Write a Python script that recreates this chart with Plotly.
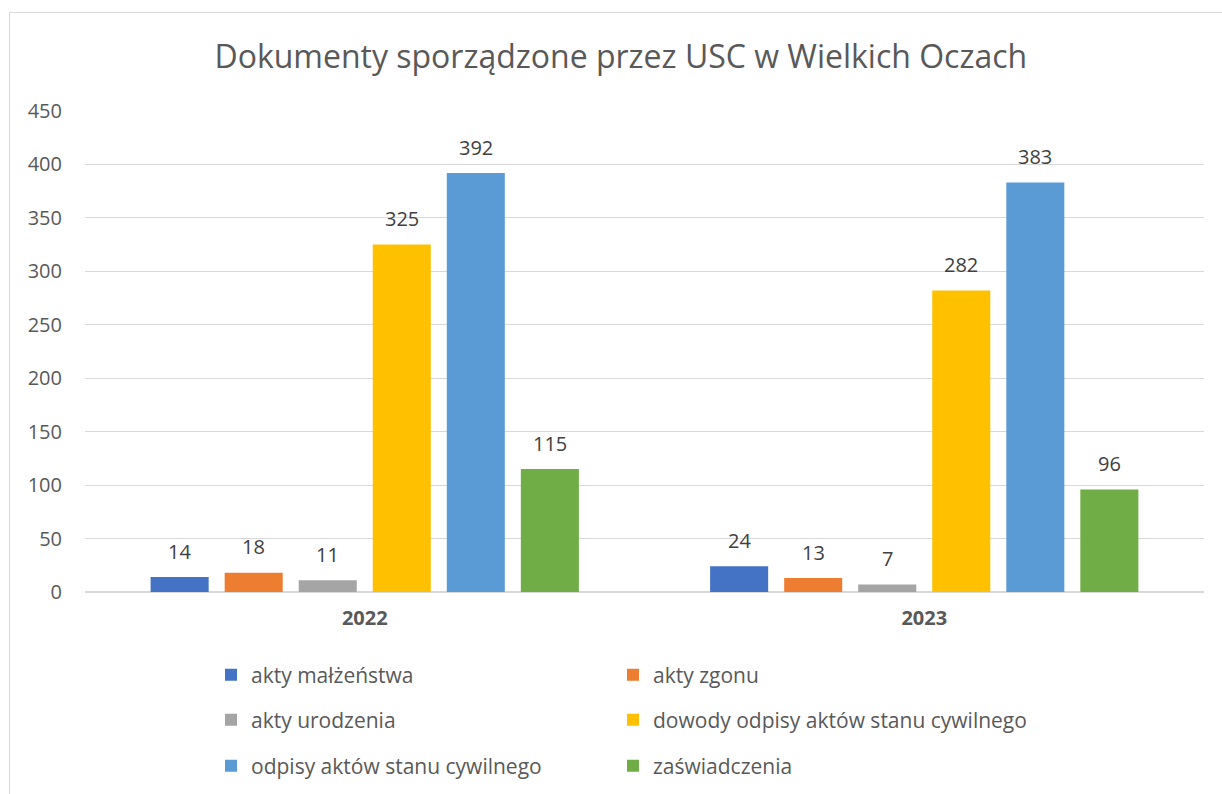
import plotly.graph_objects as go

years = ["2022", "2023"]
series_names = [
    "akty małżeństwa",
    "akty zgonu",
    "akty urodzenia",
    "dowody odpisy aktów stanu cywilnego",
    "odpisy aktów stanu cywilnego",
    "zaświadczenia",
]
akty_malzenstwa = [14, 24]
akty_zgonu = [18, 13]
akty_urodzenia = [11, 7]
dowody_odpisy = [325, 282]
odpisy_aktow = [392, 383]
zaswiadczenia = [115, 96]
series_values = [akty_malzenstwa, akty_zgonu, akty_urodzenia,
                 dowody_odpisy, odpisy_aktow, zaswiadczenia]
colors = ["#4472C4", "#ED7D31", "#A5A5A5", "#FFC000", "#5B9BD5", "#70AD47"]
y_ticks = list(range(0, 451, 50))

W, H = 1222, 794
L, R, T, B = 85, 18, 111, 202
pw = W - L - R
ph = H - T - B

def px_to_paper_x(px):
    return (px - L) / pw

def px_to_paper_y(py):
    return (H - B - py) / ph

font = "Open Sans"
legend_names = ["legend", "legend2", "legend3", "legend4", "legend5", "legend6"]

fig = go.Figure()
for i, (name, vals, col) in enumerate(zip(series_names, series_values, colors)):
    fig.add_trace(go.Bar(
        x=years, y=vals, name=name, marker=dict(color=col, line=dict(width=0)),
        legend=legend_names[i],
    ))

slot = 74
annotations = []
for i, vals in enumerate(series_values):
    for ci, v in enumerate(vals):
        annotations.append(dict(
            x=ci, y=v, xref="x", yref="y", text=str(v), showarrow=False,
            xshift=(i - 2.5) * slot, yshift=26, yanchor="middle",
            font=dict(family=font, size=20, color="#404040"),
        ))

legend_rows_px = [675, 720, 766]
legend_cols_px = [211, 613]
legend_common = dict(
    orientation="h", xanchor="left", yanchor="middle",
    font=dict(family=font, size=21, color="#595959"),
    bgcolor="rgba(0,0,0,0)",
)

layout_legends = {}
for i, ln in enumerate(legend_names):
    layout_legends[ln] = dict(legend_common,
                              x=px_to_paper_x(legend_cols_px[i % 2]),
                              y=px_to_paper_y(legend_rows_px[i // 2]))

fig.update_layout(
    width=W, height=H,
    margin=dict(l=L, r=R, t=T, b=B, autoexpand=False),
    paper_bgcolor="white", plot_bgcolor="white",
    barmode="group", bargap=0.206, bargroupgap=0.216,
    title=dict(text="Dokumenty sporządzone przez USC w Wielkich Oczach",
               x=0.508, xanchor="center", y=1 - 57 / H, yanchor="middle",
               font=dict(family=font, size=32, color="#595959")),
    xaxis=dict(type="category", range=[-0.5, 1.5], autorange=False,
               showgrid=False, showline=True, linecolor="#d9d9d9",
               linewidth=1, ticks="", ticklabelstandoff=8,
               tickfont=dict(family=font, size=20, color="#595959", weight="bold")),
    yaxis=dict(range=[0, 450], autorange=False, tickvals=y_ticks,
               gridcolor="#d9d9d9", gridwidth=1,
               zeroline=True, zerolinecolor="#d9d9d9", showline=False, ticks="",
               ticklabelstandoff=22,
               tickfont=dict(family=font, size=20, color="#595959")),
    annotations=annotations,
    shapes=[dict(type="rect", xref="paper", yref="paper",
                 x0=px_to_paper_x(9.5), x1=px_to_paper_x(1240),
                 y0=px_to_paper_y(12.5), y1=px_to_paper_y(820),
                 line=dict(color="#d9d9d9", width=1), fillcolor="rgba(0,0,0,0)",
                 layer="below")],
    showlegend=True,
    **layout_legends,
)

fig.write_html("out.html", config={"displayModeBar": False},
               post_script="document.body.style.margin='0';document.body.style.overflow='hidden';")
